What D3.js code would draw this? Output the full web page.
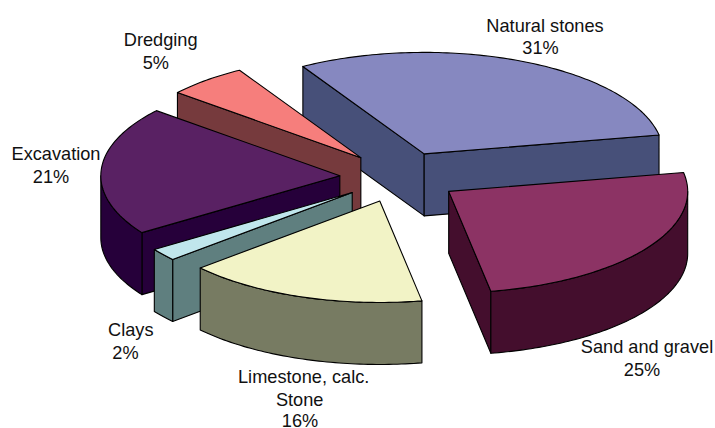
<!DOCTYPE html>
<html><head><meta charset="utf-8">
<script src="https://cdnjs.cloudflare.com/ajax/libs/d3/7.8.5/d3.min.js"></script>
<style>html,body{margin:0;padding:0;background:#fff}svg{display:block}</style>
</head><body><div id="c"></div>
<script>
const categories = ["Natural stones","Sand and gravel","Limestone, calc. Stone","Clays","Excavation","Dredging"];
const shares = [30.5,25.15,16.35,2,20.55,5.45];
const labelLines = [["Natural stones","31%"],["Sand and gravel","25%"],["Limestone, calc.","Stone","16%"],["Clays","2%"],["Excavation","21%"],["Dredging","5%"]];
const topColors = ["#8688C0","#8C3364","#F2F3C6","#C0E6EC","#592163","#F67E7C"];
const wallColors = ["#475079","#440E2D","#777B62","#5F7F7F","#26003A","#763A3D"];
const labelXs = [[545,540.5],[647,642],[303.7,299.7,300],[130.8,125.5],[56,51],[160.7,155.8]];
const labelYs = [[31.5,54],[353,376],[383,405.5,427],[336,359],[160,183],[46,68.5]];

const W=715,H=428, rx=239, ry=101.5, depth=62, explode=0.25;
const px=d3.scaleLinear().domain([-1,1]).range([399.5-rx,399.5+rx]);
const py=d3.scaleLinear().domain([-1,1]).range([177-ry,177+ry]);
const svg=d3.select("#c").append("svg").attr("width",W).attr("height",H);
const start=-30.5*Math.PI/180;
const arcs=d3.pie().sort(null).startAngle(start).endAngle(start+2*Math.PI)(shares);

const paint=[0,5,4,3,1,2]; // back-to-front
const line=d3.line();
function pt(d,a,r,z){
  const m=(d.startAngle+d.endAngle)/2;
  const ux=Math.sin(m)*explode+Math.sin(a)*r, uy=-Math.cos(m)*explode-Math.cos(a)*r;
  return [px(ux),py(uy)+z];
}
function arcPts(d,a0,a1,z){
  const n=Math.max(2,Math.ceil((a1-a0)*180/Math.PI));
  return d3.range(n+1).map(i=>pt(d,a0+(a1-a0)*i/n,1,z));
}
function drawFace(pts,fill,stroke){
  svg.append("path").attr("d",line(pts)+"Z").attr("fill",fill)
    .attr("stroke",stroke||"#000").attr("stroke-width",1.1).attr("stroke-linejoin","round");
}
paint.forEach(i=>{
  const d=arcs[i], c=wallColors[i];
  const a0=d.startAngle,a1=d.endAngle;
  const radial=a=>[pt(d,0,0,0),pt(d,a,1,0),pt(d,a,1,depth),pt(d,0,0,depth)];
  if(Math.sin(a0)<0) drawFace(radial(a0),c);
  if(Math.sin(a1)>0) drawFace(radial(a1),c);
  const tau=2*Math.PI;
  [[Math.PI/2,3*Math.PI/2],[Math.PI/2+tau,3*Math.PI/2+tau]].forEach(([lo,hi])=>{
    const s=Math.max(a0,lo), e=Math.min(a1,hi);
    if(e>s) drawFace(arcPts(d,s,e,0).concat(arcPts(d,s,e,depth).reverse()),c);
  });
  drawFace([pt(d,0,0,0)].concat(arcPts(d,a0,a1,0)),topColors[i]);
});
labelLines.forEach((ls,i)=>{
  const t=svg.append("text").attr("text-anchor","middle")
    .attr("font-family","'Liberation Sans',Arial,sans-serif").attr("font-size",18.2).attr("fill","#111");
  ls.forEach((s,j)=>t.append("tspan").attr("x",labelXs[i][j]).attr("y",labelYs[i][j]).text(s));
});
</script></body></html>
